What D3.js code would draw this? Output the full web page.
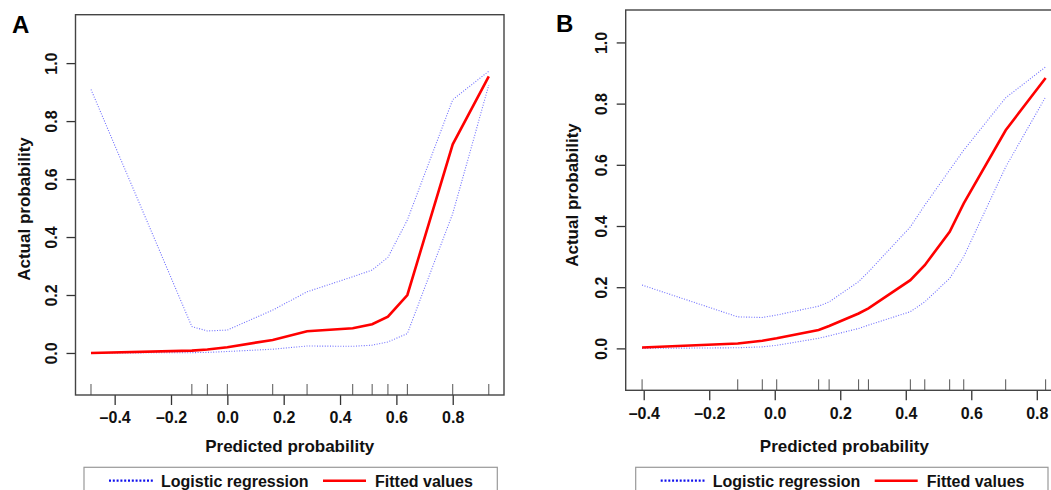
<!DOCTYPE html>
<html>
<head>
<meta charset="utf-8">
<script src="https://cdn.jsdelivr.net/npm/d3@7"></script>
<style>
  body { margin: 0; background: #fff; }
  svg { display: block; font-family: "Liberation Sans", Arial, sans-serif; font-weight: bold; }
</style>
</head>
<body>
<svg width="1051" height="490"></svg>
<script>
// panel A
var rugA   = [-0.484, -0.126, -0.071, 0.0, 0.161, 0.283, 0.445, 0.514, 0.570, 0.639, 0.800, 0.928];
var fitA   = [0.000, 0.008, 0.012, 0.020, 0.045, 0.075, 0.085, 0.099, 0.125, 0.200, 0.720, 0.954];
var upperA = [0.909, 0.091, 0.076, 0.079, 0.148, 0.211, 0.263, 0.286, 0.330, 0.459, 0.874, 0.972];
var lowerA = [0.000, 0.001, 0.002, 0.005, 0.013, 0.024, 0.023, 0.027, 0.038, 0.067, 0.481, 0.924];

// panel B
var rugB   = [-0.405, -0.113, -0.038, 0.006, 0.134, 0.166, 0.256, 0.286, 0.414, 0.458, 0.534, 0.577, 0.705, 0.827];
var fitB   = [0.003, 0.016, 0.025, 0.033, 0.060, 0.073, 0.114, 0.131, 0.223, 0.272, 0.381, 0.474, 0.713, 0.884];
var upperB = [0.207, 0.103, 0.101, 0.109, 0.138, 0.152, 0.218, 0.250, 0.397, 0.468, 0.583, 0.648, 0.819, 0.920];
var lowerB = [0.000, 0.002, 0.005, 0.010, 0.033, 0.041, 0.065, 0.076, 0.120, 0.152, 0.229, 0.300, 0.593, 0.822];

var xTicks = [-0.4, -0.2, 0.0, 0.2, 0.4, 0.6, 0.8];
var yTicks = [0.0, 0.2, 0.4, 0.6, 0.8, 1.0];
var legendLabels = ['Logistic regression', 'Fitted values'];

var svg = d3.select('svg');
var fmt = function(d) { return d3.format('.1f')(d).replace('−', '–'); };

function drawPanel(p) {
  var x = d3.scaleLinear().domain(p.xDomain).range([p.l, p.r]),
      y = d3.scaleLinear().domain(p.yDomain).range([p.b, p.t]);

  var g = svg.append('g');

  // x axis
  var xa = g.append('g')
    .attr('transform', 'translate(0,' + p.b + ')')
    .call(d3.axisBottom(x).tickValues(xTicks).tickFormat(fmt).tickSize(10).tickPadding(7).tickSizeOuter(0));
  xa.select('.domain').remove();
  xa.selectAll('line').attr('stroke', '#333').attr('stroke-width', 1.3);
  xa.selectAll('text').attr('font-size', 16).attr('fill', '#111').attr('font-family', null);

  // y axis
  var ya = g.append('g')
    .attr('transform', 'translate(' + p.l + ',0)')
    .call(d3.axisLeft(y).tickValues(yTicks).tickFormat(fmt).tickSize(9).tickSizeOuter(0));
  ya.select('.domain').remove();
  ya.selectAll('line').attr('stroke', '#333').attr('stroke-width', 1.3);
  ya.selectAll('text')
    .attr('font-size', 16).attr('fill', '#111').attr('font-family', null)
    .attr('transform', 'rotate(-90)')
    .attr('x', 0).attr('y', -24).attr('dy', '0.35em')
    .attr('text-anchor', 'middle');

  // rug
  g.selectAll('.rug')
    .data(p.rug)
    .enter()
    .append('line')
    .attr('x1', function(d) { return x(d); })
    .attr('x2', function(d) { return x(d); })
    .attr('y1', p.b)
    .attr('y2', p.b - 11)
    .attr('stroke', '#555')
    .attr('stroke-width', 1);

  // lines
  var line = d3.line()
    .x(function(d) { return x(d[0]); })
    .y(function(d) { return y(d[1]); });

  [p.upper, p.lower].forEach(function(s) {
    g.append('path')
      .datum(d3.zip(p.rug, s))
      .attr('d', line)
      .attr('fill', 'none')
      .attr('stroke', '#6f6fff')
      .attr('stroke-width', 1.1)
      .attr('stroke-dasharray', '1 1.6');
  });

  g.append('path')
    .datum(d3.zip(p.rug, p.fit))
    .attr('d', line)
    .attr('fill', 'none')
    .attr('stroke', '#ff0000')
    .attr('stroke-width', 2.6);

  // box
  g.append('rect')
    .attr('x', p.l).attr('y', p.t)
    .attr('width', p.r - p.l).attr('height', p.b - p.t)
    .attr('fill', 'none')
    .attr('stroke', '#444')
    .attr('stroke-width', 1.4);

  // titles
  g.append('text')
    .attr('x', (p.l + p.plotR) / 2)
    .attr('y', p.xTitleY)
    .attr('text-anchor', 'middle')
    .attr('font-size', 17)
    .attr('fill', '#111')
    .text('Predicted probability');

  g.append('text')
    .attr('transform', 'translate(' + p.yTitleX + ',' + p.yTitleY + ') rotate(-90)')
    .attr('text-anchor', 'middle')
    .attr('font-size', 17)
    .attr('fill', '#111')
    .text('Actual probability');

  g.append('text')
    .attr('x', p.tagX).attr('y', p.tagY)
    .attr('font-size', 24)
    .attr('fill', '#000')
    .text(p.tag);

  // legend
  var lg = g.append('g');
  lg.append('rect')
    .attr('x', p.legL).attr('y', 467.3)
    .attr('width', p.legR - p.legL).attr('height', 40)
    .attr('fill', '#fff')
    .attr('stroke', '#999')
    .attr('stroke-width', 1.2);
  lg.append('line')
    .attr('x1', p.legL + 25).attr('x2', p.legL + 70)
    .attr('y1', 480.7).attr('y2', 480.7)
    .attr('stroke', '#1010ee').attr('stroke-width', 2.2)
    .attr('stroke-dasharray', '2 1.8');
  lg.append('text')
    .attr('x', p.legL + 77).attr('y', 486.5)
    .attr('font-size', 16).attr('fill', '#111')
    .text(legendLabels[0]);
  lg.append('line')
    .attr('x1', p.legL + 239).attr('x2', p.legL + 282)
    .attr('y1', 480.7).attr('y2', 480.7)
    .attr('stroke', '#ff0000').attr('stroke-width', 2.6);
  lg.append('text')
    .attr('x', p.legL + 291).attr('y', 486.5)
    .attr('font-size', 16).attr('fill', '#111')
    .text(legendLabels[1]);
}

drawPanel({
  tag: 'A', tagX: 12, tagY: 33,
  l: 75.5, t: 14.7, r: 504, b: 395, plotR: 504,
  xDomain: [-0.539, 0.982], yDomain: [-0.145, 1.167],
  rug: rugA, fit: fitA, upper: upperA, lower: lowerA,
  xTitleY: 452, yTitleX: 30, yTitleY: 209,
  legL: 84, legR: 497.3
});

drawPanel({
  tag: 'B', tagX: 556, tagY: 32,
  l: 625.7, t: 10, r: 1063, b: 390.3, plotR: 1063,
  xDomain: [-0.455, 0.88], yDomain: [-0.137, 1.106],
  rug: rugB, fit: fitB, upper: upperB, lower: lowerB,
  xTitleY: 452, yTitleX: 578, yTitleY: 195,
  legL: 635.7, legR: 1048
});
</script>
</body>
</html>
